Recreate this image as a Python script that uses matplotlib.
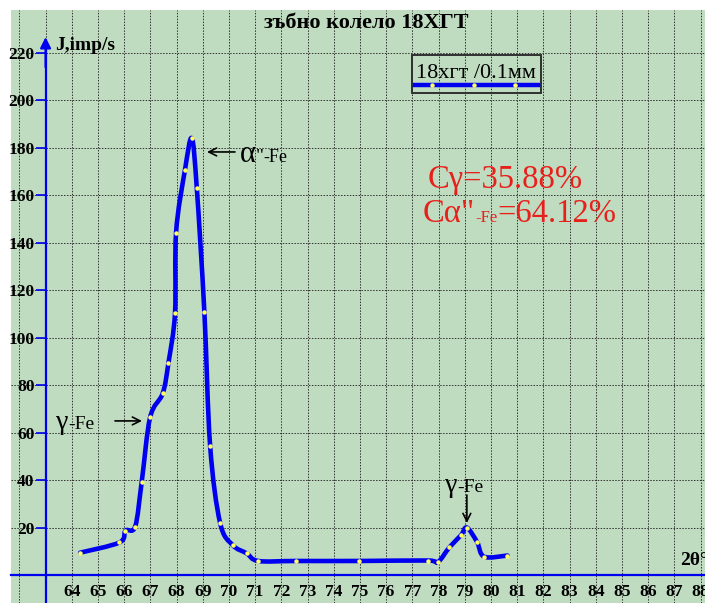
import matplotlib
matplotlib.use("Agg")
import matplotlib.pyplot as plt
from matplotlib.patches import Rectangle, PathPatch
from matplotlib.path import Path
from matplotlib.transforms import offset_copy

# ---- data ----
two_theta = [64.32, 65.82, 66.05, 66.42, 66.67, 66.99, 67.47, 67.69, 67.94, 67.98,
             68.32, 68.58, 68.77, 69.06, 69.28, 69.66, 70.14, 70.68, 71.12, 72.55,
             74.96, 77.58, 77.97, 78.41, 78.86, 79.08, 79.47, 79.74, 80.63]
intensity = [9.5, 13.8, 18.8, 20.5, 39.4, 66.5, 76.6, 89.5, 110.3, 144.3,
             170.7, 184.1, 163.3, 111.0, 54.6, 22.1, 12.7, 9.2, 6.0, 6.0,
             6.0, 6.2, 5.5, 11.7, 16.9, 20.1, 14.0, 7.8, 8.3]
x_ticks = list(range(62, 89))
x_tick_labels = ["" if v < 64 else str(v) for v in x_ticks]
y_ticks = list(range(20, 221, 20))
y_tick_labels = [str(v) for v in y_ticks]
title = "зъбно колело 18ХГТ"
series_name = "18хгт /0.1мм"
y_title = "J,imp/s"
x_title = "2θ°"

SERIF = "Liberation Serif"
plt.rcParams["font.family"] = [SERIF, "DejaVu Serif", "DejaVu Sans"]
BLUE = "#0000f0"
GREEN = "#c0dcc0"
RED = "#e8201c"
YELLOW = "#ffff60"

fig = plt.figure(figsize=(7.05, 6.03), dpi=100)
W, H = 705, 603
ax = fig.add_axes([11 / W, 0, 694 / W, 593 / H])
ax.set_facecolor(GREEN)
ax.set_xlim(61.68, 88.17)
ax.set_ylim(-11.7, 238.1)

# grid / ticks
ax.set_xticks(x_ticks)
ax.set_xticklabels(x_tick_labels)
ax.set_yticks(y_ticks)
ax.set_yticklabels(y_tick_labels)
ax.grid(True, linestyle=(0, (1.5, 1.5)), color="#303030", linewidth=0.7)
ax.set_axisbelow(True)

for s in ("top", "right"):
    ax.spines[s].set_visible(False)
ax.spines["left"].set_position(("data", 63))
ax.spines["bottom"].set_position(("data", 0))
ax.spines["left"].set_color(BLUE)
ax.spines["bottom"].set_color(BLUE)
ax.spines["left"].set_linewidth(1.6)
ax.spines["bottom"].set_linewidth(1.6)
ax.spines["left"].set_bounds(-11.7, 222)
ax.tick_params(axis="x", length=0, pad=6, colors="black", labelsize=12.5)
ax.tick_params(axis="y", length=7, width=1.2, color=BLUE, pad=1,
               labelcolor="black", labelsize=12.5)
for lbl in ax.get_xticklabels() + ax.get_yticklabels():
    lbl.set_fontweight("bold")
    lbl.set_family(SERIF)

# y axis arrow head
ax.annotate("", xy=(63, 226.7), xytext=(63, 214),
            arrowprops=dict(arrowstyle="-|>", color=BLUE, lw=1.6,
                            mutation_scale=16, shrinkA=0, shrinkB=0))

# smoothed data line (Catmull-Rom -> cubic Bezier, as a spreadsheet "smoothed line")
pts = list(zip(two_theta, intensity))
n = len(pts)
verts = [pts[0]]
codes = [Path.MOVETO]
for i in range(n - 1):
    p0 = pts[i - 1] if i > 0 else pts[i]
    p1 = pts[i]
    p2 = pts[i + 1]
    p3 = pts[i + 2] if i + 2 < n else pts[i + 1]
    c1 = (p1[0] + (p2[0] - p0[0]) / 6, p1[1] + (p2[1] - p0[1]) / 6)
    c2 = (p2[0] - (p3[0] - p1[0]) / 6, p2[1] - (p3[1] - p1[1]) / 6)
    verts += [c1, c2, p2]
    codes += [Path.CURVE4] * 3
ax.add_patch(PathPatch(Path(verts, codes), facecolor="none", edgecolor=BLUE,
                       lw=3.3, joinstyle="round", capstyle="round", zorder=5))
ax.plot(two_theta, intensity, ls="none", marker="o", markersize=2.2,
        markerfacecolor=YELLOW, markeredgecolor=YELLOW, zorder=6)

# axis titles
ax.text(63.36, 221.2, y_title, fontsize=14, fontweight="bold", family=SERIF,
        va="baseline", ha="left")
ax.text(87.22, 4.3, x_title, fontsize=14, fontweight="bold", family=SERIF,
        va="baseline", ha="left")
fig.text(0.519, 1 - 28 / H, title, fontsize=16, fontweight="bold", family=SERIF,
         ha="center", va="baseline")

# legend (manual)
def fx(px):
    return (px - 11) / 694

def fy(py):
    return 1 - (py - 10) / 593

ax.add_patch(Rectangle((fx(412), fy(93)), fx(541) - fx(412), fy(55) - fy(93),
                       transform=ax.transAxes, fill=False, edgecolor="#303030",
                       lw=1.4, zorder=6))
ax.text(fx(416), fy(78), series_name, transform=ax.transAxes, fontsize=16,
        family=SERIF, va="baseline", ha="left", zorder=7)
ax.plot([fx(415), fx(538)], [fy(85), fy(85)], transform=ax.transAxes,
        color=BLUE, lw=3.2, zorder=7)
ax.plot([fx(432), fx(474), fx(515)], [fy(85)] * 3, transform=ax.transAxes,
        ls="none", marker="o", markersize=2.2, color=YELLOW, zorder=8)

renderer = fig.canvas.get_renderer()


def rich(parts, xy, color="black"):
    dx = 0.0
    for s, fs in parts:
        tr = offset_copy(ax.transData, fig=fig, x=dx, y=0, units="dots")
        t = ax.text(xy[0], xy[1], s, transform=tr, fontsize=fs, color=color,
                    family=SERIF, va="baseline", ha="left", zorder=9)
        dx += t.get_window_extent(renderer).width


arrow = dict(arrowstyle="->", lw=1.2, color="black", shrinkA=0, shrinkB=0,
             mutation_scale=14)
# alpha''-Fe annotation
ax.annotate("", xy=(69.16, 178.3), xytext=(70.23, 178.3), arrowprops=arrow)
rich([("α", 22), ('"', 14), ("-Fe", 13)], (70.42, 174.1))
# gamma-Fe left annotation
ax.annotate("", xy=(66.68, 65.0), xytext=(65.65, 65.0), arrowprops=arrow)
rich([("γ", 20), ("-Fe", 14)], (63.4, 61.5))
# gamma-Fe right annotation
ax.annotate("", xy=(79.08, 22.0), xytext=(79.08, 33.8), arrowprops=arrow)
rich([("γ", 20), ("-Fe", 14)], (78.25, 35.0))

# percentages
rich([("Cγ=35.88%", 23.5)], (77.6, 163.1), color=RED)
rich([('Cα"', 23.5), ("-Fe", 12), ("=64.12%", 23.5)], (77.41, 148.8), color=RED)

fig.savefig("out.png", dpi=100)
